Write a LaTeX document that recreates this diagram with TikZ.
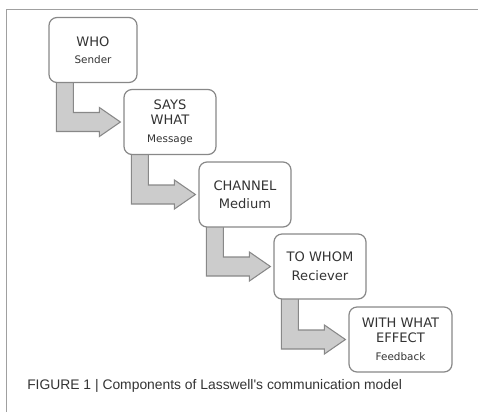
\documentclass[tikz,border=0pt]{standalone}
\usepackage{fontspec}
\setmainfont{DejaVu Sans}
\newfontfamily\capfont{Liberation Sans}
\usetikzlibrary{calc,backgrounds}
\definecolor{boxline}{HTML}{888888}
\definecolor{arrfill}{HTML}{CCCCCC}
\definecolor{txt}{HTML}{333333}
\definecolor{frame}{HTML}{A0A0A0}
\tikzset{
  stagebox/.style={draw=boxline, line width=0.9pt, rounded corners=6pt, fill=white,
    align=center, inner sep=0pt, text=txt, font=\fontsize{9.8}{11.25}\selectfont,
    minimum height=48.75pt},
  elbowarrow/.style={draw=boxline, line width=0.8pt, fill=arrfill, line join=miter}
}
\newcommand\smalltxt[1]{{\fontsize{7.8}{8}\selectfont #1}}
\newcommand\elbowto[2]{%
  \draw[elbowarrow] let \p1=(#1.south west), \p2=(#2.west) in
    (\x1+6pt,\y1+3pt) -- (\x1+18.75pt,\y1+3pt) -- (\x1+18.75pt,\y2+7.125pt)
    -- (\x2-18pt,\y2+7.125pt) -- (\x2-18pt,\y2+10.875pt) -- (\x2-2.25pt,\y2)
    -- (\x2-18pt,\y2-10.875pt) -- (\x2-18pt,\y2-7.125pt) -- (\x1+6pt,\y2-7.125pt) -- cycle;}
\begin{document}
\begin{tikzpicture}[x=0.75pt,y=-0.75pt]
\useasboundingbox (0,0) rectangle (478,412);
% frame
\draw[frame, line width=1.1pt] (6.5,412) -- (6.5,9.5) -- (478,9.5);
% boxes
\node[stagebox, minimum width=66pt] (who) at (93,50) {WHO\\[1.5pt]\smalltxt{Sender}};
\node[stagebox, minimum width=69pt] (says) at (170,122) {SAYS\\WHAT\\[2.5pt]\smalltxt{Message}};
\node[stagebox, minimum width=69pt] (chan) at (245,194.5) {CHANNEL\\[2pt]Medium};
\node[stagebox, minimum width=69pt] (whom) at (320,266.5) {TO WHOM\\[3pt]Reciever};
\node[stagebox, minimum width=77.25pt] (effect) at (400.5,339.5) {WITH WHAT\\EFFECT\\[2.5pt]\smalltxt{Feedback}};
% arrows
\begin{scope}[on background layer]
\elbowto{who}{says}
\elbowto{says}{chan}
\elbowto{chan}{whom}
\elbowto{whom}{effect}
\end{scope}
% caption
\node[anchor=base west, inner sep=0pt, text=txt, font=\capfont\fontsize{10.4}{12}\selectfont] (cap) at (27,389)
  {FIGURE 1 | Components of Lasswell's communication model};
\end{tikzpicture}
\end{document}
